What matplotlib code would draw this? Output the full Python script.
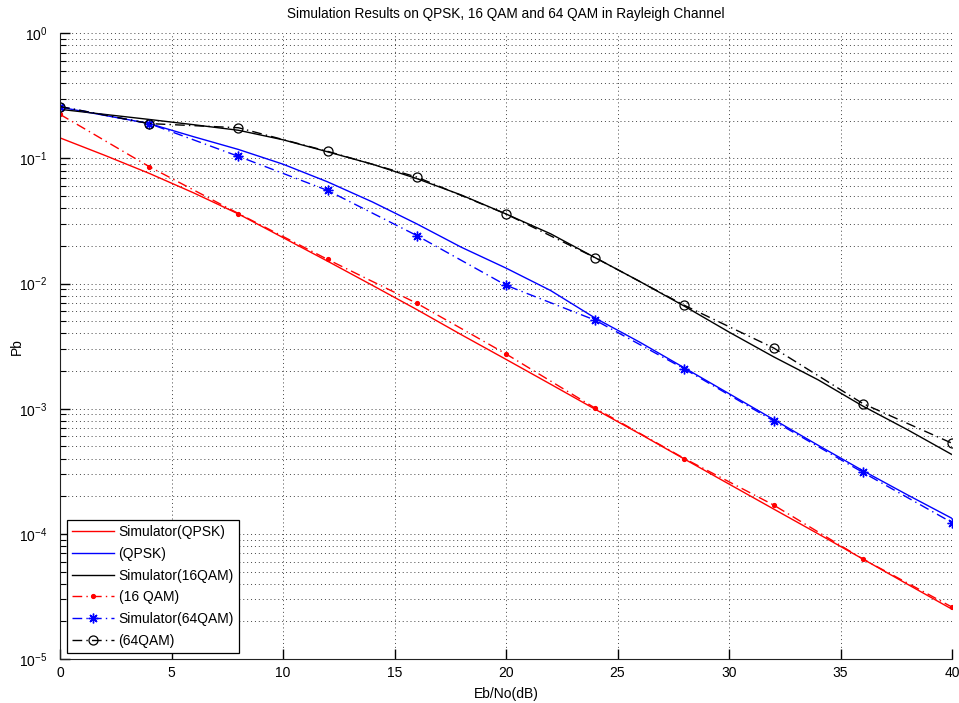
import numpy as np
import matplotlib.pyplot as plt
from matplotlib.ticker import LogLocator, NullFormatter, MultipleLocator

plt.rcParams['font.family'] = ['Liberation Sans', 'DejaVu Sans']
plt.rcParams['mathtext.default'] = 'regular'

# ── Data ────────────────────────────────────────────────────────
ebno_fine = [0, 2, 4, 6, 8, 10, 12, 14, 16, 18, 20,
             22, 24, 26, 28, 30, 32, 34, 36, 38, 40]
ebno_marks = [0, 4, 8, 12, 16, 20, 24, 28, 32, 36, 40]

sim_qpsk = [0.146, 0.106, 0.076, 0.053, 0.036, 0.0233, 0.0151, 0.0097,
            0.0062, 0.0039, 0.00248, 0.00157, 0.00099, 0.00063, 0.000396,
            0.00025, 0.000158, 0.0001, 6.3e-5, 3.96e-5, 2.5e-5]
qpsk = [0.257, 0.221, 0.19, 0.149, 0.118, 0.09, 0.065, 0.045, 0.030,
        0.0195, 0.0133, 0.0088, 0.0053, 0.0034, 0.00212, 0.00132,
        0.00082, 0.00051, 0.00032, 0.000205, 0.000133]
sim_16qam = [0.247, 0.225, 0.205, 0.186, 0.168, 0.141, 0.113, 0.09, 0.069,
             0.051, 0.036, 0.025, 0.0161, 0.0104, 0.0066, 0.0041, 0.0026,
             0.0017, 0.00105, 0.00068, 0.00043]
qam16 = [0.225, 0.086, 0.0363, 0.0156, 0.00696, 0.00274, 0.00101,
         0.0004, 0.00017, 6.3e-5, 2.6e-5]
sim_64qam = [0.26, 0.19, 0.104, 0.0555, 0.0242, 0.0097, 0.0051, 0.00208,
             0.0008, 0.00031, 0.000123]
qam64 = [0.26, 0.19, 0.176, 0.114, 0.071, 0.036, 0.0161, 0.0067, 0.00306,
         0.0011, 0.00053]

DASHDOT = (0, (7, 3, 1, 3))
ASTERISK = (8, 2, 0)   # matlab-like '*' : 8 spokes

fig = plt.figure(figsize=(9.59, 7.03), dpi=100)
ax = fig.add_axes([0.0626, 0.0626, 0.9301, 0.8900])

ax.semilogy(ebno_fine, sim_qpsk, color='red', lw=1.0, label='Simulator(QPSK)')
ax.semilogy(ebno_fine, qpsk, color='blue', lw=1.0, label='(QPSK)')
ax.semilogy(ebno_fine, sim_16qam, color='black', lw=1.0, label='Simulator(16QAM)')
ax.semilogy(ebno_marks, qam16, color='red', lw=1.0, ls=DASHDOT,
            marker='.', ms=5.5, label='(16 QAM)')
ax.semilogy(ebno_marks, sim_64qam, color='blue', lw=1.0, ls=DASHDOT,
            marker=ASTERISK, ms=7, mew=1.0, label='Simulator(64QAM)')
ax.semilogy(ebno_marks, qam64, color='black', lw=1.0, ls=DASHDOT,
            marker='o', ms=6.5, mfc='none', mew=0.9, label='(64QAM)')

ax.set_xlim(0, 40)
ax.set_ylim(1e-5, 1)
ax.xaxis.set_major_locator(MultipleLocator(5))
ax.yaxis.set_major_locator(LogLocator(base=10, numticks=10))
ax.yaxis.set_minor_locator(LogLocator(base=10, subs=np.arange(2, 10), numticks=20))
ax.yaxis.set_minor_formatter(NullFormatter())

ax.grid(True, which='major', axis='both', color='#444444',
        ls=(0, (1, 3)), lw=0.7)
ax.grid(True, which='minor', axis='y', color='#444444',
        ls=(0, (1, 3)), lw=0.7)

for side in ['top', 'right']:
    ax.spines[side].set_visible(False)
for side in ['left', 'bottom']:
    ax.spines[side].set_color('#222222')

ax.tick_params(which='major', direction='in', length=7, width=1,
               labelsize=10, pad=5)
ax.tick_params(which='minor', direction='in', length=4, width=0.8)
ax.tick_params(axis='y', which='major', pad=9)

ax.set_title('Simulation Results on QPSK, 16 QAM and 64 QAM in Rayleigh Channel',
             fontsize=9.8, pad=11)
ax.set_xlabel('Eb/No(dB)', fontsize=10, labelpad=5)
ax.set_ylabel('Pb', fontsize=10, labelpad=-3)

leg = ax.legend(loc='lower left', bbox_to_anchor=(0.008, 0.01),
                borderaxespad=0, fancybox=False, framealpha=1,
                edgecolor='black', fontsize=10, handlelength=3.0,
                handletextpad=0.35, labelspacing=0.56, borderpad=0.35)
leg.get_frame().set_linewidth(0.9)

fig.savefig('out.png', dpi=100, facecolor='white')
